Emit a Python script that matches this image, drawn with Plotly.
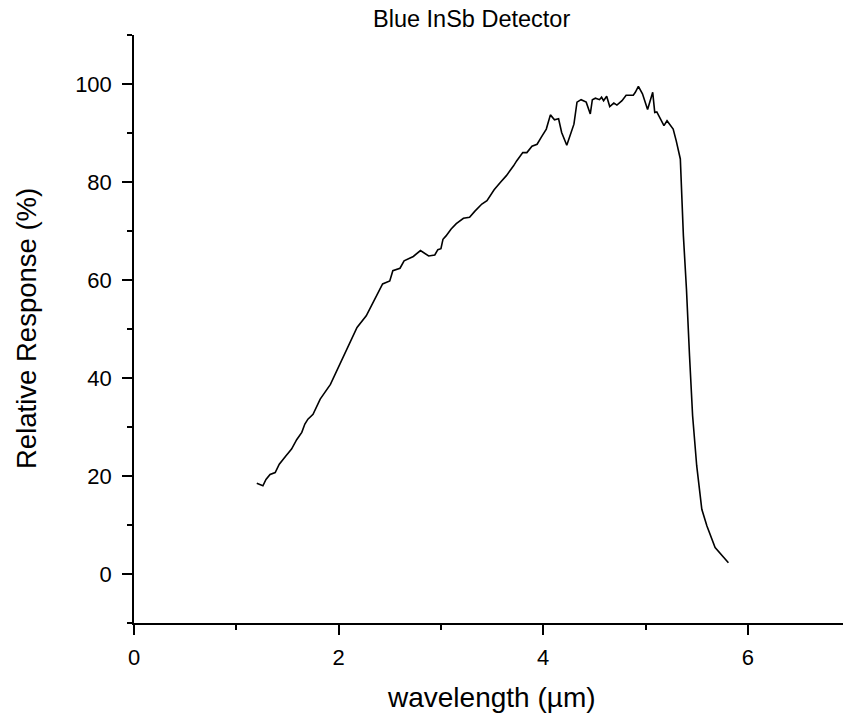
import plotly.graph_objects as go

title_text = "Blue InSb Detector"
x_title = "wavelength (\u00b5m)"
y_title = "Relative Response (%)"

wavelength = [1.20, 1.26, 1.29, 1.33, 1.38, 1.42, 1.48, 1.54, 1.59, 1.64, 1.67, 1.70, 1.75, 1.82,
              1.92, 2.05, 2.18, 2.27, 2.36, 2.43, 2.50, 2.53, 2.60, 2.64, 2.73, 2.80, 2.88, 2.94,
              2.97, 3.00, 3.02, 3.05, 3.10, 3.15, 3.22, 3.28, 3.33, 3.40, 3.45, 3.52, 3.58, 3.64,
              3.71, 3.74, 3.80,
              3.84, 3.89, 3.94, 3.98, 4.03, 4.07, 4.11, 4.15, 4.18, 4.23, 4.28, 4.30, 4.33, 4.37,
              4.42, 4.46, 4.48, 4.51, 4.55, 4.57, 4.59, 4.62, 4.65, 4.69, 4.72, 4.77, 4.81, 4.88,
              4.90, 4.93, 4.97, 5.02, 5.07, 5.09, 5.11, 5.14, 5.18, 5.21, 5.27, 5.30, 5.32, 5.34,
              5.37, 5.40, 5.43, 5.46, 5.50, 5.55, 5.60, 5.68, 5.81]
response = [18.5, 18.0, 19.3, 20.3, 20.7, 22.4, 24.0, 25.5, 27.4, 28.9, 30.6, 31.6, 32.6, 35.7,
            38.7, 44.5, 50.3, 52.7, 56.4, 59.2, 59.8, 61.9, 62.4, 63.9, 64.8, 66.0, 64.9, 65.1,
            66.2, 66.4, 68.3, 69.0, 70.4, 71.5, 72.6, 72.8, 74.0, 75.5, 76.2, 78.4, 79.9, 81.3,
            83.3, 84.3, 86.0,
            86.0, 87.3, 87.7, 89.1, 90.8, 93.7, 92.7, 92.9, 90.1, 87.5, 90.8, 91.8, 96.3, 96.8,
            96.3, 93.9, 96.8, 97.1, 96.8, 97.3, 96.6, 97.5, 95.4, 96.1, 95.7, 96.6, 97.7, 97.7,
            98.3, 99.5, 98.0, 94.8, 98.3, 94.2, 94.3, 93.0, 91.5, 92.5, 90.8, 88.4, 86.7, 84.7,
            69.0, 58.1, 44.5, 32.3, 22.1, 13.2, 9.8, 5.4, 2.3]

x_ticks = [0, 2, 4, 6]
y_ticks = [0, 20, 40, 60, 80, 100]

FONT = "Arial, Liberation Sans, sans-serif"

fig = go.Figure()
fig.add_trace(go.Scatter(x=wavelength, y=response, mode="lines",
                         line=dict(color="black", width=1.6), showlegend=False,
                         hoverinfo="skip"))

L, R, T, B = 134, 0, 35, 95
W, H = 843, 718
pw, ph = W - L - R, H - T - B

def px_to_paper_x(px):
    return (px - L) / pw

def px_to_paper_y(py):
    return (H - B - py) / ph

fig.update_layout(
    width=W, height=H,
    margin=dict(l=L, r=R, t=T, b=B, pad=0),
    paper_bgcolor="white", plot_bgcolor="white",
    font=dict(family=FONT, color="black"),
    xaxis=dict(range=[0, 6.93], tickvals=x_ticks, ticks="outside", ticklen=10, tickwidth=1.5,
               tickcolor="black", showline=True, linecolor="black", linewidth=1.5,
               showgrid=False, zeroline=False, tickfont=dict(size=22, family=FONT),
               ticklabelstandoff=4,
               minor=dict(tickvals=[1, 3, 5], ticks="outside", ticklen=5, tickwidth=1.5,
                          tickcolor="black", showgrid=False)),
    yaxis=dict(range=[-10, 110], tickvals=y_ticks, ticks="outside", ticklen=10, tickwidth=1.5,
               tickcolor="black", showline=True, linecolor="black", linewidth=1.5,
               showgrid=False, zeroline=False, tickfont=dict(size=22, family=FONT),
               ticklabelstandoff=6,
               minor=dict(tickvals=[-10, 10, 30, 50, 70, 90, 110], ticks="outside", ticklen=5,
                          tickwidth=1.5, tickcolor="black", showgrid=False)),
    annotations=[
        dict(text=title_text, xref="paper", yref="paper", x=px_to_paper_x(471),
             y=px_to_paper_y(19), xanchor="center", yanchor="middle", showarrow=False,
             font=dict(size=23.5, family=FONT, color="black")),
        dict(text=x_title, xref="paper", yref="paper", x=px_to_paper_x(491),
             y=px_to_paper_y(697), xanchor="center", yanchor="middle", showarrow=False,
             font=dict(size=28, family=FONT, color="black")),
        dict(text=y_title, xref="paper", yref="paper", x=px_to_paper_x(26),
             y=px_to_paper_y(328), xanchor="center", yanchor="middle", showarrow=False,
             textangle=-90, font=dict(size=27.5, family=FONT, color="black")),
    ],
)

fig.write_html("out.html")
